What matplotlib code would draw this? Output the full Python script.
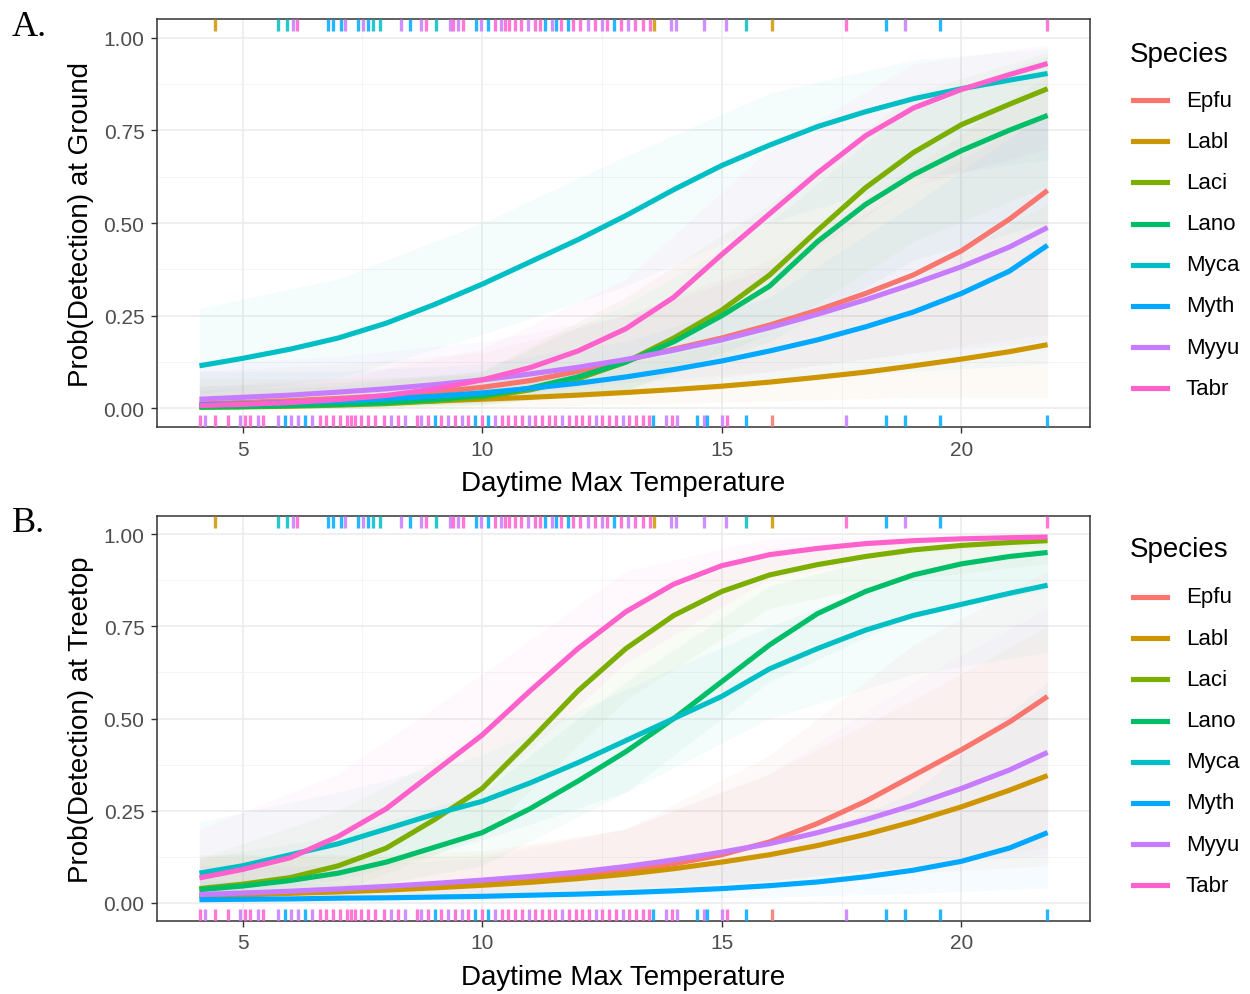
import matplotlib
matplotlib.use("Agg")
import matplotlib.pyplot as plt
from matplotlib.lines import Line2D

plt.rcParams['font.family'] = ['Liberation Sans', 'DejaVu Sans']

species = ['Epfu', 'Labl', 'Laci', 'Lano', 'Myca', 'Myth', 'Myyu', 'Tabr']
colors = ['#F8766D', '#CD9600', '#7CAE00', '#00BE67', '#00BFC4', '#00A9FF', '#C77CFF', '#FF61CC']

# daytime max temperature where the fitted curves were read
temp = [4.1, 5, 6, 7, 8, 9, 10, 11, 12, 13, 14, 15, 16, 17, 18, 19, 20, 21, 21.8]

# A. probability of detection at ground
ground_epfu = [0.012, 0.016, 0.021, 0.027, 0.034, 0.044, 0.057, 0.075, 0.100, 0.130, 0.160, 0.190, 0.225, 0.265, 0.310, 0.360, 0.425, 0.510, 0.588]
ground_labl = [0.006, 0.008, 0.010, 0.013, 0.016, 0.020, 0.025, 0.030, 0.036, 0.043, 0.051, 0.060, 0.071, 0.084, 0.098, 0.115, 0.133, 0.153, 0.172]
ground_laci = [0.003, 0.004, 0.006, 0.009, 0.013, 0.020, 0.030, 0.050, 0.080, 0.125, 0.190, 0.265, 0.360, 0.480, 0.595, 0.690, 0.765, 0.820, 0.862]
ground_lano = [0.004, 0.005, 0.008, 0.011, 0.016, 0.024, 0.035, 0.055, 0.085, 0.125, 0.180, 0.250, 0.330, 0.450, 0.550, 0.630, 0.695, 0.750, 0.790]
ground_myca = [0.115, 0.135, 0.160, 0.190, 0.230, 0.280, 0.335, 0.395, 0.455, 0.520, 0.590, 0.655, 0.710, 0.760, 0.800, 0.835, 0.862, 0.885, 0.903]
ground_myth = [0.010, 0.012, 0.016, 0.020, 0.026, 0.033, 0.042, 0.054, 0.068, 0.085, 0.105, 0.128, 0.155, 0.185, 0.220, 0.260, 0.310, 0.370, 0.440]
ground_myyu = [0.025, 0.030, 0.036, 0.044, 0.053, 0.064, 0.077, 0.093, 0.111, 0.132, 0.157, 0.185, 0.218, 0.254, 0.293, 0.336, 0.382, 0.435, 0.488]
ground_tabr = [0.008, 0.011, 0.016, 0.024, 0.035, 0.052, 0.077, 0.110, 0.155, 0.215, 0.300, 0.415, 0.525, 0.635, 0.735, 0.810, 0.860, 0.900, 0.930]

# B. probability of detection at treetop
tree_epfu = [0.020, 0.023, 0.027, 0.032, 0.038, 0.045, 0.053, 0.062, 0.073, 0.087, 0.105, 0.130, 0.165, 0.215, 0.275, 0.345, 0.415, 0.490, 0.560]
tree_labl = [0.018, 0.021, 0.025, 0.029, 0.034, 0.040, 0.047, 0.055, 0.065, 0.077, 0.092, 0.110, 0.130, 0.155, 0.185, 0.220, 0.260, 0.305, 0.345]
tree_laci = [0.038, 0.050, 0.068, 0.100, 0.148, 0.225, 0.310, 0.440, 0.575, 0.690, 0.780, 0.845, 0.890, 0.918, 0.940, 0.958, 0.970, 0.978, 0.983]
tree_lano = [0.035, 0.045, 0.060, 0.080, 0.110, 0.150, 0.190, 0.255, 0.330, 0.410, 0.500, 0.600, 0.700, 0.785, 0.845, 0.890, 0.920, 0.940, 0.951]
tree_myca = [0.080, 0.100, 0.130, 0.160, 0.200, 0.240, 0.275, 0.325, 0.380, 0.440, 0.500, 0.560, 0.635, 0.690, 0.740, 0.780, 0.810, 0.840, 0.862]
tree_myth = [0.008, 0.009, 0.010, 0.012, 0.013, 0.015, 0.017, 0.020, 0.023, 0.027, 0.032, 0.038, 0.046, 0.056, 0.070, 0.088, 0.112, 0.148, 0.190]
tree_myyu = [0.022, 0.026, 0.031, 0.037, 0.044, 0.052, 0.061, 0.071, 0.083, 0.098, 0.116, 0.137, 0.160, 0.190, 0.225, 0.265, 0.310, 0.360, 0.408]
tree_tabr = [0.067, 0.090, 0.122, 0.180, 0.255, 0.355, 0.455, 0.575, 0.690, 0.790, 0.865, 0.915, 0.945, 0.962, 0.975, 0.983, 0.988, 0.991, 0.993]

# confidence bands, read coarsely
band_t = [4.1, 7, 10, 13, 16, 19, 21.8]
ground_lo = [
    [0.001, 0.004, 0.015, 0.05, 0.10, 0.15, 0.20],
    [0.000, 0.001, 0.004, 0.01, 0.02, 0.03, 0.03],
    [0.000, 0.001, 0.010, 0.05, 0.20, 0.45, 0.60],
    [0.000, 0.001, 0.010, 0.05, 0.18, 0.40, 0.50],
    [0.040, 0.080, 0.200, 0.33, 0.50, 0.62, 0.67],
    [0.000, 0.003, 0.015, 0.04, 0.07, 0.10, 0.12],
    [0.003, 0.010, 0.030, 0.07, 0.10, 0.15, 0.18],
    [0.000, 0.003, 0.030, 0.12, 0.35, 0.60, 0.70],
]
ground_hi = [
    [0.10, 0.12, 0.15, 0.25, 0.40, 0.65, 0.90],
    [0.08, 0.08, 0.09, 0.12, 0.20, 0.35, 0.55],
    [0.05, 0.06, 0.10, 0.30, 0.55, 0.85, 0.96],
    [0.06, 0.07, 0.10, 0.28, 0.50, 0.82, 0.95],
    [0.27, 0.35, 0.50, 0.68, 0.85, 0.94, 0.97],
    [0.10, 0.10, 0.12, 0.18, 0.30, 0.55, 0.80],
    [0.12, 0.14, 0.18, 0.25, 0.38, 0.60, 0.80],
    [0.06, 0.08, 0.16, 0.35, 0.70, 0.93, 0.98],
]
tree_lo = [
    [0.003, 0.008, 0.020, 0.035, 0.060, 0.100, 0.15],
    [0.002, 0.006, 0.015, 0.030, 0.050, 0.080, 0.10],
    [0.010, 0.030, 0.180, 0.550, 0.800, 0.880, 0.92],
    [0.008, 0.030, 0.100, 0.300, 0.600, 0.780, 0.85],
    [0.020, 0.060, 0.170, 0.300, 0.500, 0.620, 0.68],
    [0.001, 0.003, 0.005, 0.010, 0.015, 0.025, 0.04],
    [0.004, 0.010, 0.025, 0.040, 0.060, 0.100, 0.13],
    [0.020, 0.080, 0.300, 0.650, 0.880, 0.950, 0.97],
]
tree_hi = [
    [0.12, 0.12, 0.13, 0.20, 0.40, 0.70, 0.90],
    [0.13, 0.13, 0.14, 0.20, 0.35, 0.55, 0.75],
    [0.12, 0.25, 0.45, 0.80, 0.96, 0.99, 1.00],
    [0.12, 0.18, 0.30, 0.60, 0.86, 0.96, 0.98],
    [0.22, 0.30, 0.40, 0.58, 0.75, 0.90, 0.95],
    [0.06, 0.05, 0.06, 0.08, 0.13, 0.30, 0.60],
    [0.10, 0.10, 0.12, 0.20, 0.35, 0.60, 0.80],
    [0.20, 0.35, 0.62, 0.90, 0.99, 1.00, 1.00],
]

# rug: nights with a detection (top) and without (bottom)
rug_top_t = [4.42, 5.74, 5.92, 6.06, 6.13, 6.78, 6.89, 7.06, 7.13, 7.41,
             7.51, 7.62, 7.72, 7.86, 8.31, 8.49, 8.73, 8.83, 9.04, 9.32,
             9.40, 9.50, 9.60, 9.87, 9.98, 10.12, 10.26, 10.40, 10.47, 10.57,
             10.68, 10.82, 10.96, 11.10, 11.20, 11.31, 11.45, 11.55, 11.65, 11.80,
             11.90, 12.05, 12.20, 12.35, 12.50, 12.60, 12.75, 12.90, 13.05, 13.20,
             13.35, 13.50, 13.59, 13.94, 14.04, 14.63, 15.08, 15.50, 16.05, 17.60,
             18.42, 18.83, 19.56, 21.78]
rug_top_sp = ['Labl', 'Myca', 'Myca', 'Myyu', 'Tabr', 'Myth', 'Myth', 'Myth', 'Myyu', 'Myth',
              'Myyu', 'Myth', 'Myca', 'Myca', 'Myyu', 'Myth', 'Myyu', 'Tabr', 'Myca', 'Myyu',
              'Tabr', 'Myyu', 'Tabr', 'Myth', 'Myyu', 'Myth', 'Tabr', 'Myyu', 'Tabr', 'Tabr',
              'Tabr', 'Tabr', 'Myyu', 'Tabr', 'Tabr', 'Myth', 'Myyu', 'Myth', 'Tabr', 'Myth',
              'Tabr', 'Tabr', 'Myyu', 'Tabr', 'Myyu', 'Tabr', 'Myth', 'Tabr', 'Myyu', 'Tabr',
              'Tabr', 'Tabr', 'Labl', 'Myyu', 'Myyu', 'Myyu', 'Myyu', 'Myca', 'Labl', 'Tabr',
              'Myth', 'Myyu', 'Myth', 'Tabr']
rug_bot_t = [4.11, 4.21, 4.42, 4.70, 4.94, 5.05, 5.15, 5.33, 5.43, 5.74,
             5.88, 6.02, 6.16, 6.30, 6.44, 6.61, 6.75, 6.89, 7.03, 7.17,
             7.27, 7.34, 7.48, 7.62, 7.76, 7.96, 8.10, 8.24, 8.38, 8.65,
             8.73, 8.87, 9.01, 9.15, 9.29, 9.43, 9.57, 9.71, 9.85, 9.99,
             10.13, 10.27, 10.41, 10.55, 10.69, 10.83, 10.97, 11.11, 11.25, 11.39,
             11.53, 11.67, 11.81, 11.95, 12.09, 12.23, 12.37, 12.51, 12.65, 12.79,
             12.93, 13.07, 13.21, 13.35, 13.49, 13.56, 13.83, 13.97, 14.07, 14.49,
             14.63, 14.70, 15.00, 15.10, 15.50, 16.05, 17.60, 18.42, 18.83, 19.56,
             21.78]
rug_bot_sp = ['Tabr', 'Myyu', 'Tabr', 'Tabr', 'Myyu', 'Tabr', 'Tabr', 'Myyu', 'Tabr', 'Myyu',
              'Myth', 'Myyu', 'Myyu', 'Myth', 'Myyu', 'Tabr', 'Tabr', 'Tabr', 'Tabr', 'Tabr',
              'Tabr', 'Tabr', 'Tabr', 'Tabr', 'Tabr', 'Tabr', 'Myyu', 'Tabr', 'Myyu', 'Tabr',
              'Myyu', 'Tabr', 'Myth', 'Tabr', 'Myyu', 'Tabr', 'Myyu', 'Tabr', 'Myth', 'Tabr',
              'Myth', 'Myyu', 'Tabr', 'Tabr', 'Tabr', 'Tabr', 'Myyu', 'Tabr', 'Tabr', 'Tabr',
              'Tabr', 'Myyu', 'Tabr', 'Tabr', 'Tabr', 'Tabr', 'Myyu', 'Tabr', 'Tabr', 'Tabr',
              'Myyu', 'Tabr', 'Tabr', 'Tabr', 'Tabr', 'Myth', 'Myyu', 'Tabr', 'Myyu', 'Myth',
              'Myyu', 'Myth', 'Myyu', 'Tabr', 'Myth', 'Epfu', 'Myyu', 'Myth', 'Myth', 'Myth',
              'Myth']

ground = [ground_epfu, ground_labl, ground_laci, ground_lano, ground_myca, ground_myth, ground_myyu, ground_tabr]
tree = [tree_epfu, tree_labl, tree_laci, tree_lano, tree_myca, tree_myth, tree_myyu, tree_tabr]
col = dict(zip(species, colors))

W, H = 1250, 995
fig = plt.figure(figsize=(W / 100, H / 100), dpi=100)
fig.patch.set_facecolor('white')


def panel(top_px, bot_px, curves, lo, hi, ylabel):
    ax = fig.add_axes([157 / W, 1 - bot_px / H, (1090 - 157) / W, (bot_px - top_px) / H])
    for i in range(len(species)):
        ax.fill_between(band_t, lo[i], hi[i], color=colors[i], alpha=0.04, lw=0, zorder=1)
    for i in range(len(species)):
        ax.plot(temp, curves[i], color=colors[i], lw=3.7, zorder=3, solid_capstyle='butt')
    tr = ax.get_xaxis_transform()
    ax.vlines(rug_top_t, 0.97, 1.0, transform=tr, colors=[col[s] for s in rug_top_sp],
              lw=2.4, alpha=0.85, zorder=4)
    ax.vlines(rug_bot_t, 0.0, 0.03, transform=tr, colors=[col[s] for s in rug_bot_sp],
              lw=2.4, alpha=0.85, zorder=4)

    ax.set_xlim(3.215, 22.685)
    ax.set_ylim(-0.05, 1.05)
    ax.set_xticks([5, 10, 15, 20])
    ax.set_xticks([7.5, 12.5, 17.5], minor=True)
    ax.set_yticks([0, 0.25, 0.5, 0.75, 1.0])
    ax.set_yticks([0.125, 0.375, 0.625, 0.875], minor=True)
    ax.set_yticklabels(['0.00', '0.25', '0.50', '0.75', '1.00'])
    ax.grid(True, which='major', color='#EBEBEB', lw=1.1, zorder=0)
    ax.grid(True, which='minor', color='#F2F2F2', lw=0.6, zorder=0)
    ax.set_axisbelow(True)
    for s in ax.spines.values():
        s.set_color('#333333')
        s.set_linewidth(1.1)
    ax.tick_params(which='major', length=4, width=1, color='#333333',
                   labelcolor='#4D4D4D', labelsize=15, pad=5)
    ax.tick_params(which='minor', length=0)
    ax.set_xlabel('Daytime Max Temperature', fontsize=20, labelpad=8)
    ax.set_ylabel(ylabel, fontsize=20, labelpad=7)
    return ax


panel(20, 428, ground, ground_lo, ground_hi, 'Prob(Detection) at Ground')
panel(517, 922, tree, tree_lo, tree_hi, 'Prob(Detection) at Treetop')

# legends, placed in figure pixels
for title_y, first_y in [(55, 101), (550, 598)]:
    fig.text(1130 / W, 1 - title_y / H, 'Species', fontsize=20, ha='left', va='center')
    for i, sp in enumerate(species):
        y = 1 - (first_y + 41.2 * i) / H
        fig.add_artist(Line2D([1133 / W, 1167 / W], [y, y], color=colors[i], lw=3.7,
                              transform=fig.transFigure))
        fig.text(1186 / W, y, sp, fontsize=16, ha='left', va='center')

fig.text(12 / W, 1 - 28 / H, 'A.', fontsize=26, family='Liberation Serif', ha='left', va='center')
fig.text(12 / W, 1 - 523 / H, 'B.', fontsize=26, family='Liberation Serif', ha='left', va='center')

fig.savefig('out.png', dpi=100)
